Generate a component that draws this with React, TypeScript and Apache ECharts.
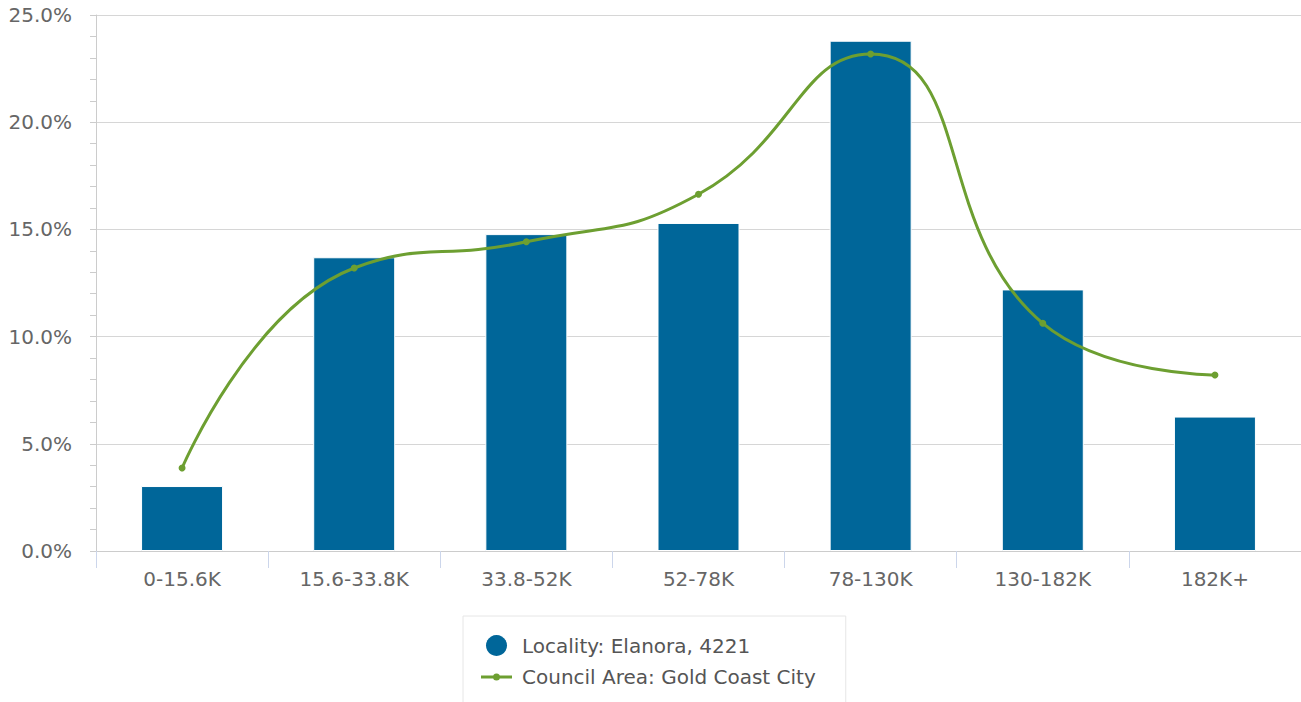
import React, { useEffect, useRef } from "react";
import * as echarts from "echarts";

const categories = ["0-15.6K", "15.6-33.8K", "33.8-52K", "52-78K", "78-130K", "130-182K", "182K+"];
const localityValues = [3.03, 13.7, 14.78, 15.3, 23.8, 12.2, 6.27];
const councilValues = [3.87, 13.2, 14.42, 16.64, 23.18, 10.62, 8.21];
const yTicks = { min: 0, max: 25, interval: 5 };

const FONT = "DejaVu Sans";
const LINE_ICON =
  "path://M0,8.5L31,8.5L31,11.5L0,11.5Z M12,10A3.5,3.5,0,1,1,19,10A3.5,3.5,0,1,1,12,10Z";

export default function App() {
  const ref = useRef<HTMLDivElement>(null);
  useEffect(() => {
    if (!ref.current) return;
    const chart = echarts.init(ref.current, undefined, { renderer: "svg" });
    chart.setOption({
      animation: false,
      textStyle: { fontFamily: FONT },
      grid: { left: 96, right: 0, top: 15, bottom: 151, containLabel: false },
      legend: {
        orient: "vertical",
        left: 463,
        top: 616,
        height: 60,
        padding: [19, 30, 18, 18],
        itemGap: 11,
        itemWidth: 31,
        itemHeight: 21,
        symbolKeepAspect: true,
        itemStyle: { borderWidth: 0 },
        borderColor: "#e6e6e6",
        borderWidth: 1,
        textStyle: {
          fontFamily: FONT,
          fontSize: 20,
          lineHeight: 20,
          color: "#555",
          padding: [0, 0, 0, 5],
        },
        data: [
          { name: "Locality: Elanora, 4221", icon: "circle" },
          { name: "Council Area: Gold Coast City", icon: LINE_ICON },
        ],
      },
      xAxis: {
        type: "category",
        data: categories,
        axisLine: { show: true, lineStyle: { color: "#cccccc", width: 1 } },
        axisTick: { show: true, length: 17, lineStyle: { color: "#ccd6eb" } },
        axisLabel: { fontFamily: FONT, fontSize: 20, color: "#666", margin: 18 },
        splitLine: { show: false },
      },
      yAxis: {
        type: "value",
        min: yTicks.min,
        max: yTicks.max,
        interval: yTicks.interval,
        axisLine: { show: true, lineStyle: { color: "#cccccc" } },
        axisTick: { show: true, length: 6, lineStyle: { color: "#cccccc" } },
        minorTick: { show: true, splitNumber: 5, length: 6, lineStyle: { color: "#cccccc" } },
        axisLabel: {
          fontFamily: FONT,
          fontSize: 20,
          color: "#666",
          margin: 24,
          formatter: (v: number) => v.toFixed(1) + "%",
        },
        splitLine: { show: true, lineStyle: { color: "#d6d6d6", width: 1 } },
      },
      series: [
        {
          name: "Locality: Elanora, 4221",
          type: "bar",
          data: localityValues,
          barWidth: 82,
          itemStyle: { color: "#006699", borderColor: "#ffffff", borderWidth: 1 },
        },
        {
          name: "Council Area: Gold Coast City",
          type: "line",
          data: councilValues,
          smooth: 0.5,
          symbol: "circle",
          symbolSize: 7,
          lineStyle: { color: "#6d9f31", width: 3 },
          itemStyle: { color: "#6d9f31" },
        },
      ],
    });
    return () => chart.dispose();
  }, []);
  return <div ref={ref} style={{ width: 1301, height: 702, position: "absolute", left: 0, top: 0 }} />;
}
